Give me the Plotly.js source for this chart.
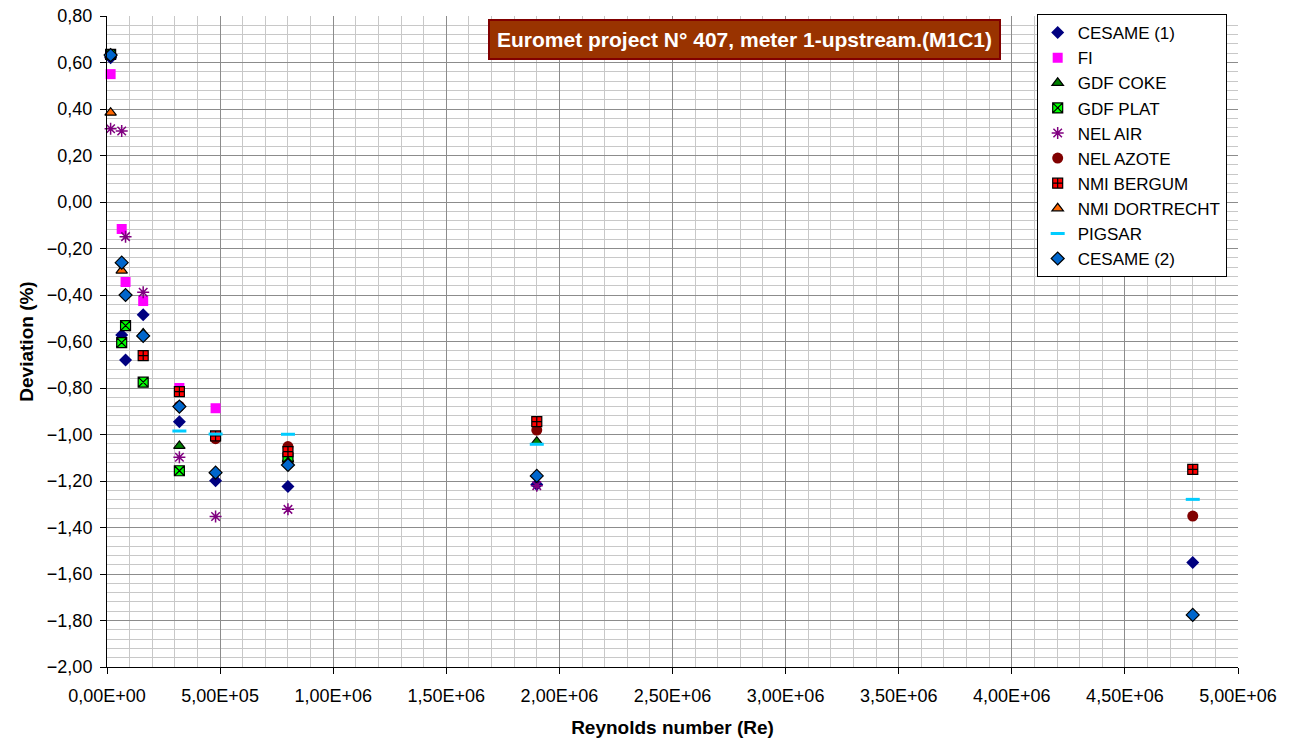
<!DOCTYPE html>
<html>
<head>
<meta charset="utf-8">
<script src="https://cdn.plot.ly/plotly-3.0.1.min.js"></script>
<style>html,body{margin:0;padding:0;background:#fff;}#chart{width:1296px;height:742px;}</style>
</head>
<body>
<div id="chart"></div>
<script>
// Data (Reynolds number, deviation %)
const cesame1X = [1.6e4, 6.5e4, 8.2e4, 1.6e5, 3.2e5, 4.8e5, 8.0e5, 1.9e6, 4.8e6];
const cesame1Y = [0.62, -0.572, -0.68, -0.485, -0.945, -1.199, -1.224, -1.215, -1.551];

const fiX = [1.6e4, 6.5e4, 8.2e4, 1.6e5, 3.2e5, 4.8e5];
const fiY = [0.55, -0.116, -0.344, -0.426, -0.80, -0.887];

const gdfCokeX = [1.6e4, 1.6e5, 3.2e5, 8.0e5, 1.9e6];
const gdfCokeY = [0.635, -0.565, -1.049, -1.105, -1.031];

const gdfPlatX = [1.6e4, 6.5e4, 8.2e4, 1.6e5, 3.2e5, 8.0e5];
const gdfPlatY = [0.635, -0.605, -0.532, -0.775, -1.156, -1.10];

const nelAirX = [1.6e4, 6.5e4, 8.2e4, 1.6e5, 3.2e5, 4.8e5, 8.0e5, 1.9e6];
const nelAirY = [0.315, 0.305, -0.149, -0.388, -1.098, -1.353, -1.322, -1.22];

const nelAzoteX = [3.2e5, 4.8e5, 8.0e5, 1.9e6, 4.8e6];
const nelAzoteY = [-0.878, -1.018, -1.052, -0.981, -1.351];

const nmiBergumX = [1.6e5, 3.2e5, 4.8e5, 8.0e5, 1.9e6, 4.8e6];
const nmiBergumY = [-0.661, -0.816, -1.006, -1.074, -0.945, -1.15];

const nmiDortX = [1.6e4, 6.5e4];
const nmiDortY = [0.384, -0.295];

const pigsarX = [3.2e5, 4.8e5, 8.0e5, 1.9e6, 4.8e6];
const pigsarY = [-0.985, -0.998, -0.999, -1.042, -1.279];

const cesame2X = [1.6e4, 6.5e4, 8.2e4, 1.6e5, 3.2e5, 4.8e5, 8.0e5, 1.9e6, 4.8e6];
const cesame2Y = [0.632, -0.261, -0.40, -0.576, -0.88, -1.164, -1.131, -1.178, -1.776];

const xTickVals = [0, 5e5, 1e6, 1.5e6, 2e6, 2.5e6, 3e6, 3.5e6, 4e6, 4.5e6, 5e6];
const xTickText = ["0,00E+00","5,00E+05","1,00E+06","1,50E+06","2,00E+06","2,50E+06","3,00E+06","3,50E+06","4,00E+06","4,50E+06","5,00E+06"];

const FONT = "Arial, 'Liberation Sans', sans-serif";

function tr(name, x, y, marker) {
  return {type: 'scatter', mode: 'markers', name: name, legendgroup: name, x: x, y: y, marker: marker, cliponaxis: false};
}

const traces = [
  tr('CESAME (1)', cesame1X, cesame1Y, {symbol: 'diamond', size: 10, color: '#000080', line: {color: '#000080', width: 0}}),
  tr('FI', fiX, fiY, {symbol: 'square', size: 10, color: '#FF00FF', line: {width: 0}}),
  tr('GDF COKE', gdfCokeX, gdfCokeY, {symbol: 'triangle-up', size: 10, color: '#008000', line: {color: '#000000', width: 1.2}}),
  tr('GDF PLAT', gdfPlatX, gdfPlatY, {symbol: 'square-x', size: 10, color: '#00FF00', line: {color: '#000000', width: 1.2}}),
  tr('NEL AIR', nelAirX, nelAirY, {symbol: 'asterisk-open', size: 10, color: '#800080', line: {color: '#800080', width: 1.5}}),
  tr('NEL AZOTE', nelAzoteX, nelAzoteY, {symbol: 'circle', size: 11, color: '#800000', line: {width: 0}}),
  tr('NMI BERGUM', nmiBergumX, nmiBergumY, {symbol: 'square-cross', size: 10, color: '#FF0000', line: {color: '#000000', width: 1.2}}),
  tr('NMI DORTRECHT', nmiDortX, nmiDortY, {symbol: 'triangle-up', size: 10, color: '#FF6600', line: {color: '#000000', width: 1.2}}),
  tr('PIGSAR', pigsarX, pigsarY, {symbol: 'line-ew-open', size: 10, color: '#00CCFF', line: {color: '#00CCFF', width: 3}}),
  tr('CESAME (2)', cesame2X, cesame2Y, {symbol: 'diamond', size: 10, color: '#0066CC', line: {color: '#000000', width: 1.2}})
];

const layout = {
  width: 1296, height: 742,
  margin: {l: 107, r: 58, t: 16, b: 75},
  paper_bgcolor: '#ffffff', plot_bgcolor: '#ffffff',
  separators: ',.',
  font: {family: FONT, size: 18, color: '#000000'},
  showlegend: true,
  legend: {
    x: 0.822, y: 1.003, xanchor: 'left', yanchor: 'top',
    bgcolor: '#ffffff', bordercolor: '#000000', borderwidth: 1,
    font: {family: FONT, size: 17, color: '#000000'},
    tracegroupgap: 0, traceorder: 'normal'
  },
  xaxis: {
    range: [0, 5e6], tickmode: 'array', tickvals: xTickVals, ticktext: xTickText,
    showgrid: true, gridcolor: '#8c8c8c', gridwidth: 1,
    minor: {dtick: 1e5, showgrid: true, gridcolor: '#c8c8c8', gridwidth: 1},
    zeroline: false, showline: true, linecolor: '#000000', linewidth: 1,
    ticks: 'outside', ticklen: 6, tickcolor: '#000000', ticklabelstandoff: 6,
    tickfont: {family: FONT, size: 18},
    title: {text: '<b>Reynolds number (Re)</b>', font: {family: FONT, size: 19}, standoff: 16}
  },
  yaxis: {
    range: [-2, 0.8], dtick: 0.2, tick0: 0, tickformat: '.2f',
    showgrid: true, gridcolor: '#8c8c8c', gridwidth: 1,
    minor: {dtick: 0.04, showgrid: true, gridcolor: '#c8c8c8', gridwidth: 1},
    zeroline: false, showline: true, linecolor: '#000000', linewidth: 1,
    ticks: 'outside', ticklen: 6, tickcolor: '#000000', ticklabelstandoff: 4,
    tickfont: {family: FONT, size: 18},
    title: {text: '<b>Deviation (%)</b>', font: {family: FONT, size: 19}, standoff: 8}
  },
  annotations: [{
    xref: 'paper', yref: 'paper',
    x: (744 - 107) / 1131, y: 1 - (39 - 16) / 651,
    xanchor: 'center', yanchor: 'middle',
    text: '<b>Euromet project N° 407, meter 1-upstream.(M1C1)</b>',
    showarrow: false,
    font: {family: FONT, size: 21, color: '#ffffff'},
    bgcolor: '#993300', bordercolor: '#800000', borderwidth: 2, borderpad: 7
  }]
};

Plotly.newPlot('chart', traces, layout, {displayModeBar: false, staticPlot: true});
</script>
</body>
</html>
